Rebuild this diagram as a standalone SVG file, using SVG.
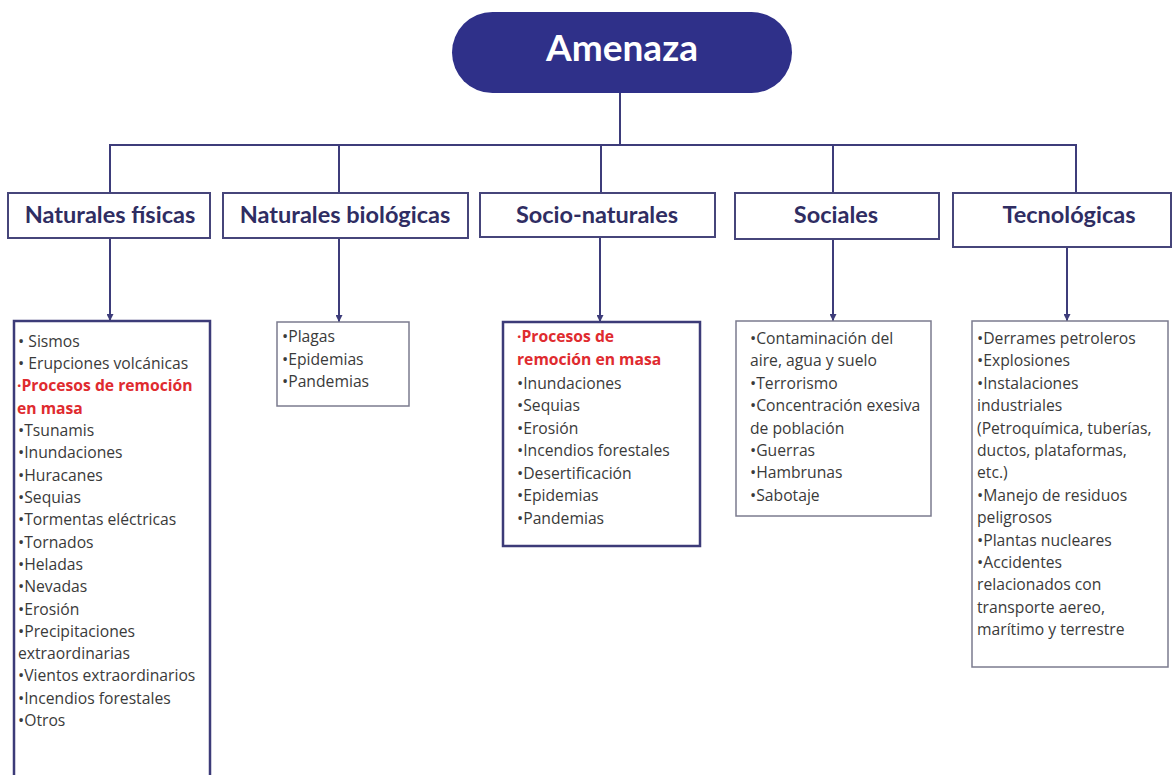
<svg xmlns="http://www.w3.org/2000/svg" width="1172" height="775" viewBox="0 0 1172 775">
<defs>
<style>
.hdr{fill:#fff;stroke:#46457a;stroke-width:2}
.ht{font-family:Lato,"Open Sans",sans-serif;font-weight:700;font-size:23.5px;fill:#2f2d62;text-anchor:middle}
.lst{fill:#fff;stroke:#7b7b8e;stroke-width:1.5}
.lstb{fill:#fff;stroke:#3c3b78;stroke-width:2.5}
.t{font-family:"Open Sans",Lato,sans-serif;font-size:15.7px;fill:#3a3a3a}
.b{font-size:16.5px}
.r{font-weight:700;fill:#df2b2f}
.ln{fill:none;stroke:#3d3c7a;stroke-width:2}
</style>
<marker id="ah" viewBox="0 0 10 10" refX="10" refY="5" markerWidth="7" markerHeight="7" markerUnits="userSpaceOnUse" orient="auto">
<path d="M0,0 L10,5 L0,10 z" fill="#3d3c7a"/>
</marker>
</defs>
<rect width="1172" height="775" fill="#fff"/>

<g id="connectors">
<line class="ln" x1="620" y1="93" x2="620" y2="145"/>
<line class="ln" x1="110" y1="145" x2="1076" y2="145"/>
<line class="ln" x1="110" y1="144" x2="110" y2="193"/>
<line class="ln" x1="339" y1="144" x2="339" y2="193"/>
<line class="ln" x1="601" y1="144" x2="601" y2="193"/>
<line class="ln" x1="833" y1="144" x2="833" y2="193"/>
<line class="ln" x1="1076" y1="144" x2="1076" y2="193"/>
<path class="ln" d="M110,238 V321" marker-end="url(#ah)"/>
<path class="ln" d="M339,238 V322" marker-end="url(#ah)"/>
<path class="ln" d="M600,237 V322" marker-end="url(#ah)"/>
<path class="ln" d="M833,239 V321" marker-end="url(#ah)"/>
<path class="ln" d="M1067,247 V321" marker-end="url(#ah)"/>
</g>

<g id="amenaza">
<rect x="452" y="12" width="340" height="81" rx="40.5" fill="#2f3089"/>
<text x="622" y="61" font-family="Lato,'Open Sans',sans-serif" font-weight="700" font-size="37" fill="#fff" text-anchor="middle">Amenaza</text>
</g>

<g id="naturales-fisicas">
<rect class="hdr" x="8" y="193" width="202" height="45"/>
<text class="ht" x="110" y="223">Naturales físicas</text>
</g>
<g id="naturales-biologicas">
<rect class="hdr" x="223" y="193" width="245" height="45"/>
<text class="ht" x="345" y="223">Naturales biológicas</text>
</g>
<g id="socio-naturales">
<rect class="hdr" x="480" y="193" width="235" height="44"/>
<text class="ht" x="597" y="223">Socio-naturales</text>
</g>
<g id="sociales">
<rect class="hdr" x="735" y="193" width="204" height="46"/>
<text class="ht" x="836" y="223">Sociales</text>
</g>
<g id="tecnologicas">
<rect class="hdr" x="953" y="193" width="218" height="54"/>
<text class="ht" x="1069" y="223">Tecnológicas</text>
</g>

<g id="lista-fisicas">
<rect class="lstb" x="14" y="321" width="196" height="460"/>
<text class="t" x="18" y="347"><tspan class="b">•</tspan> Sismos</text>
<text class="t" x="18" y="369"><tspan class="b">•</tspan> Erupciones volcánicas</text>
<text class="t r" x="17" y="391">·Procesos de remoción</text>
<text class="t r" x="17" y="414">en masa</text>
<text class="t" x="18" y="436"><tspan class="b">•</tspan>Tsunamis</text>
<text class="t" x="18" y="458"><tspan class="b">•</tspan>Inundaciones</text>
<text class="t" x="18" y="481"><tspan class="b">•</tspan>Huracanes</text>
<text class="t" x="18" y="503"><tspan class="b">•</tspan>Sequias</text>
<text class="t" x="18" y="525"><tspan class="b">•</tspan>Tormentas eléctricas</text>
<text class="t" x="18" y="548"><tspan class="b">•</tspan>Tornados</text>
<text class="t" x="18" y="570"><tspan class="b">•</tspan>Heladas</text>
<text class="t" x="18" y="592"><tspan class="b">•</tspan>Nevadas</text>
<text class="t" x="18" y="615"><tspan class="b">•</tspan>Erosión</text>
<text class="t" x="18" y="637"><tspan class="b">•</tspan>Precipitaciones</text>
<text class="t" x="18" y="659">extraordinarias</text>
<text class="t" x="18" y="681"><tspan class="b">•</tspan>Vientos extraordinarios</text>
<text class="t" x="18" y="704"><tspan class="b">•</tspan>Incendios forestales</text>
<text class="t" x="18" y="726"><tspan class="b">•</tspan>Otros</text>
</g>

<g id="lista-biologicas">
<rect class="lst" x="277" y="322" width="132" height="84"/>
<text class="t" x="282" y="342"><tspan class="b">•</tspan>Plagas</text>
<text class="t" x="282" y="365"><tspan class="b">•</tspan>Epidemias</text>
<text class="t" x="282" y="387"><tspan class="b">•</tspan>Pandemias</text>
</g>

<g id="lista-socio">
<rect class="lstb" x="503" y="322" width="197" height="224"/>
<text class="t r" x="517" y="342">·Procesos de</text>
<text class="t r" x="517" y="365">remoción en masa</text>
<text class="t" x="517" y="389"><tspan class="b">•</tspan>Inundaciones</text>
<text class="t" x="517" y="411"><tspan class="b">•</tspan>Sequias</text>
<text class="t" x="517" y="434"><tspan class="b">•</tspan>Erosión</text>
<text class="t" x="517" y="456"><tspan class="b">•</tspan>Incendios forestales</text>
<text class="t" x="517" y="479"><tspan class="b">•</tspan>Desertificación</text>
<text class="t" x="517" y="501"><tspan class="b">•</tspan>Epidemias</text>
<text class="t" x="517" y="524"><tspan class="b">•</tspan>Pandemias</text>
</g>

<g id="lista-sociales">
<rect class="lst" x="736" y="321" width="195" height="195"/>
<text class="t" x="750" y="344"><tspan class="b">•</tspan>Contaminación del</text>
<text class="t" x="750" y="366">aire, agua y suelo</text>
<text class="t" x="750" y="389"><tspan class="b">•</tspan>Terrorismo</text>
<text class="t" x="750" y="411"><tspan class="b">•</tspan>Concentración exesiva</text>
<text class="t" x="750" y="434">de población</text>
<text class="t" x="750" y="456"><tspan class="b">•</tspan>Guerras</text>
<text class="t" x="750" y="478"><tspan class="b">•</tspan>Hambrunas</text>
<text class="t" x="750" y="501"><tspan class="b">•</tspan>Sabotaje</text>
</g>

<g id="lista-tecnologicas">
<rect class="lst" x="972" y="321" width="196" height="346"/>
<text class="t" x="977" y="344"><tspan class="b">•</tspan>Derrames petroleros</text>
<text class="t" x="977" y="366"><tspan class="b">•</tspan>Explosiones</text>
<text class="t" x="977" y="389"><tspan class="b">•</tspan>Instalaciones</text>
<text class="t" x="977" y="411">industriales</text>
<text class="t" x="977" y="434">(Petroquímica, tuberías,</text>
<text class="t" x="977" y="456">ductos, plataformas,</text>
<text class="t" x="977" y="478">etc.)</text>
<text class="t" x="977" y="501"><tspan class="b">•</tspan>Manejo de residuos</text>
<text class="t" x="977" y="523">peligrosos</text>
<text class="t" x="977" y="546"><tspan class="b">•</tspan>Plantas nucleares</text>
<text class="t" x="977" y="568"><tspan class="b">•</tspan>Accidentes</text>
<text class="t" x="977" y="590">relacionados con</text>
<text class="t" x="977" y="613">transporte aereo,</text>
<text class="t" x="977" y="635">marítimo y terrestre</text>
</g>
</svg>
